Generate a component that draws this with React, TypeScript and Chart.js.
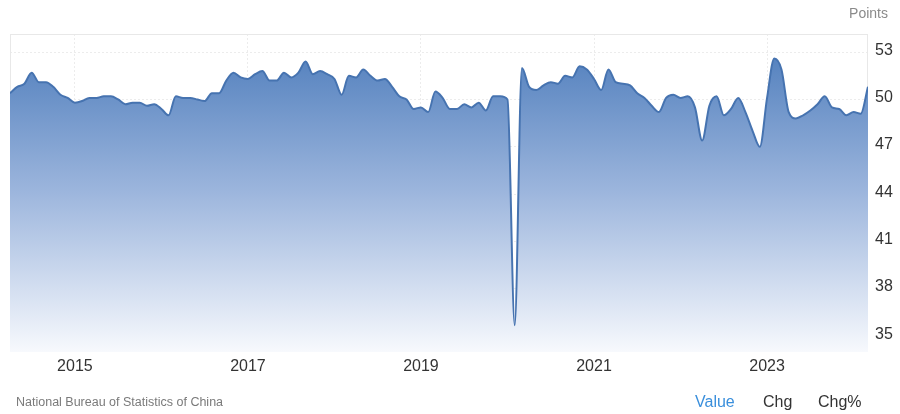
import React, { useEffect, useRef } from "react";
import { Chart, registerables } from "chart.js";

Chart.register(...registerables);

// Monthly periods (YYYY-MM), Apr 2014 – Mar 2024
const months: string[] = [
  "2014-04","2014-05","2014-06","2014-07","2014-08","2014-09","2014-10","2014-11","2014-12",
  "2015-01","2015-02","2015-03","2015-04","2015-05","2015-06","2015-07","2015-08","2015-09","2015-10","2015-11","2015-12",
  "2016-01","2016-02","2016-03","2016-04","2016-05","2016-06","2016-07","2016-08","2016-09","2016-10","2016-11","2016-12",
  "2017-01","2017-02","2017-03","2017-04","2017-05","2017-06","2017-07","2017-08","2017-09","2017-10","2017-11","2017-12",
  "2018-01","2018-02","2018-03","2018-04","2018-05","2018-06","2018-07","2018-08","2018-09","2018-10","2018-11","2018-12",
  "2019-01","2019-02","2019-03","2019-04","2019-05","2019-06","2019-07","2019-08","2019-09","2019-10","2019-11","2019-12",
  "2020-01","2020-02","2020-03","2020-04","2020-05","2020-06","2020-07","2020-08","2020-09","2020-10","2020-11","2020-12",
  "2021-01","2021-02","2021-03","2021-04","2021-05","2021-06","2021-07","2021-08","2021-09","2021-10","2021-11","2021-12",
  "2022-01","2022-02","2022-03","2022-04","2022-05","2022-06","2022-07","2022-08","2022-09","2022-10","2022-11","2022-12",
  "2023-01","2023-02","2023-03","2023-04","2023-05","2023-06","2023-07","2023-08","2023-09","2023-10","2023-11","2023-12",
  "2024-01","2024-02","2024-03",
];

// Manufacturing PMI (points)
const pmi: number[] = [
  50.4, 50.8, 51.0, 51.7, 51.1, 51.1, 50.8, 50.3, 50.1,
  49.8, 49.9, 50.1, 50.1, 50.2, 50.2, 50.0, 49.7, 49.8, 49.8, 49.6, 49.7,
  49.4, 49.0, 50.2, 50.1, 50.1, 50.0, 49.9, 50.4, 50.4, 51.2, 51.7, 51.4,
  51.3, 51.6, 51.8, 51.2, 51.2, 51.7, 51.4, 51.7, 52.4, 51.6, 51.8, 51.6,
  51.3, 50.3, 51.5, 51.4, 51.9, 51.5, 51.2, 51.3, 50.8, 50.2, 50.0, 49.4,
  49.5, 49.2, 50.5, 50.1, 49.4, 49.4, 49.7, 49.5, 49.8, 49.3, 50.2, 50.2,
  50.0, 35.7, 52.0, 50.8, 50.6, 50.9, 51.1, 51.0, 51.5, 51.4, 52.1, 51.9,
  51.3, 50.6, 51.9, 51.1, 51.0, 50.9, 50.4, 50.1, 49.6, 49.2, 50.1, 50.3,
  50.1, 50.2, 49.5, 47.4, 49.6, 50.2, 49.0, 49.4, 50.1, 49.2, 48.0, 47.0,
  50.1, 52.6, 51.9, 49.2, 48.8, 49.0, 49.3, 49.7, 50.2, 49.5, 49.4, 49.0,
  49.2, 49.1, 50.8,
];

const xTickYears: number[] = [2015, 2017, 2019, 2021, 2023];
const yTickValues: number[] = [35, 38, 41, 44, 47, 50, 53];

const FONT = "'Liberation Sans', Arial, Helvetica, sans-serif";

const toX = (m: string) => {
  const [y, mo] = m.split("-").map(Number);
  return y + (mo - 1) / 12;
};

const framePlugin = {
  id: "frame",
  beforeDatasetsDraw(chart: any) {
    const { ctx, chartArea } = chart;
    ctx.save();
    ctx.strokeStyle = "#e8e8e8";
    ctx.lineWidth = 1;
    ctx.strokeRect(chartArea.left + 0.5, chartArea.top + 0.5, chartArea.right - chartArea.left - 1, chartArea.bottom - chartArea.top - 1);
    ctx.restore();
  },
};

export default function App() {
  const ref = useRef<HTMLCanvasElement>(null);

  useEffect(() => {
    if (!ref.current) return;
    const points = months.map((m, i) => ({ x: toX(m), y: pmi[i] }));
    const chart = new Chart(ref.current, {
      type: "line",
      data: {
        datasets: [
          {
            data: points,
            borderColor: "#4673b0",
            borderWidth: 2,
            pointRadius: 0,
            cubicInterpolationMode: "monotone",
            fill: "start",
            backgroundColor: (c: any) => {
              const { chart } = c;
              const area = chart.chartArea;
              if (!area) return "rgba(74,122,185,0.8)";
              const g = chart.ctx.createLinearGradient(0, area.top, 0, area.bottom);
              g.addColorStop(0, "#4a7aba");
              g.addColorStop(0.5, "#9db6dd");
              g.addColorStop(1, "#f7f9fd");
              return g;
            },
          },
        ],
      },
      options: {
        animation: false,
        responsive: false,
        maintainAspectRatio: false,
        layout: { padding: { left: 10, top: 34, right: 0, bottom: 0 } },
        plugins: { legend: { display: false }, tooltip: { enabled: false } },
        scales: {
          x: {
            type: "linear",
            min: toX(months[0]),
            max: toX(months[months.length - 1]),
            afterBuildTicks: (s: any) => {
              s.ticks = xTickYears.map((v) => ({ value: v }));
            },
            afterFit: (s: any) => {
              s.height = 62;
            },
            grid: { color: "#ececec", drawTicks: false },
            border: { display: false, dash: [2, 2] },
            ticks: {
              padding: 5,
              maxRotation: 0,
              color: "#333",
              font: { family: FONT, size: 16 },
              callback: (v: any) => String(v),
            },
          },
          y: {
            position: "right",
            min: 34,
            max: 54.15,
            afterBuildTicks: (s: any) => {
              s.ticks = yTickValues.map((v) => ({ value: v }));
            },
            afterFit: (s: any) => {
              s.width = 32;
            },
            grid: { color: "#ececec", drawTicks: false },
            border: { display: false, dash: [2, 2] },
            ticks: {
              padding: 7,
              labelOffset: -2,
              color: "#333",
              font: { family: FONT, size: 16 },
              callback: (v: any) => String(v),
            },
          },
        },
      },
      plugins: [framePlugin],
    });
    return () => chart.destroy();
  }, []);

  return (
    <div style={{ position: "absolute", left: 0, top: 0, width: 900, height: 414, background: "#fff", fontFamily: FONT }}>
      <canvas ref={ref} width={900} height={414} style={{ position: "absolute", left: 0, top: 0, width: 900, height: 414 }} />
      <div style={{ position: "absolute", right: 12, top: 5, fontSize: 14, color: "#8a8a8a" }}>Points</div>
      <div style={{ position: "absolute", left: 16, top: 395, fontSize: 12.5, color: "#7a7a7a" }}>National Bureau of Statistics of China</div>
      <div style={{ position: "absolute", left: 695, top: 393, fontSize: 16, color: "#3a8fdc" }}>Value</div>
      <div style={{ position: "absolute", left: 763, top: 393, fontSize: 16, color: "#333" }}>Chg</div>
      <div style={{ position: "absolute", left: 818, top: 393, fontSize: 16, color: "#333" }}>Chg%</div>
    </div>
  );
}
